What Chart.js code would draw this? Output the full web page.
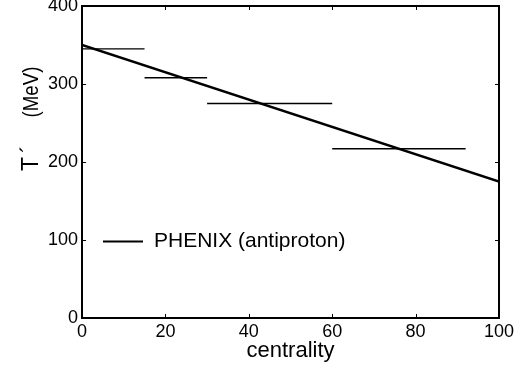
<!DOCTYPE html>
<html>
<head>
<meta charset="utf-8">
<script src="https://cdn.jsdelivr.net/npm/chart.js@4"></script>
<style>
  html, body { margin: 0; padding: 0; background: #fff; }
  #wrap { width: 518px; height: 370px; }
</style>
</head>
<body>
<div id="wrap"><canvas id="myChart" width="518" height="370"></canvas></div>
<script>
// fitted line
const fitX = [0, 100];
const fitT = [350, 175];
// centrality bins (horizontal bars)
const binLo = [0, 15, 30, 60];
const binHi = [15, 30, 60, 92];
const binT = [345, 308, 275, 217];
// ticks
const xTicks = [0, 20, 40, 60, 80, 100];
const yTicks = [0, 100, 200, 300, 400];

const FONT = 'Liberation Sans, Arial, Helvetica, sans-serif';

var datasets = [{
    label: 'PHENIX (antiproton)',
    data: fitX.map(function(x, i) { return {x: x, y: fitT[i]}; }),
    borderColor: '#000',
    borderWidth: 2.5,
    pointRadius: 0,
    fill: false
}];
binT.forEach(function(t, i) {
    datasets.push({
        label: 'bin' + i,
        data: [{x: binLo[i], y: t}, {x: binHi[i], y: t}],
        borderColor: '#000',
        borderWidth: 1.3,
        pointRadius: 0,
        fill: false
    });
});

// frame, inward ticks, y title and legend inside the plot
const framePlugin = {
    id: 'frame',
    afterDraw: function(chart) {
        var ctx = chart.ctx, a = chart.chartArea;
        var xs = chart.scales.x, ys = chart.scales.y;
        ctx.save();
        ctx.strokeStyle = '#000';
        ctx.lineWidth = 1;
        xTicks.forEach(function(v) {
            var px = Math.round(xs.getPixelForValue(v)) + 0.5;
            ctx.beginPath();
            ctx.moveTo(px, a.bottom); ctx.lineTo(px, a.bottom - 4);
            ctx.moveTo(px, a.top); ctx.lineTo(px, a.top + 4);
            ctx.stroke();
        });
        yTicks.forEach(function(v) {
            var py = Math.round(ys.getPixelForValue(v)) + 0.5;
            ctx.beginPath();
            ctx.moveTo(a.left, py); ctx.lineTo(a.left + 4, py);
            ctx.moveTo(a.right, py); ctx.lineTo(a.right - 4, py);
            ctx.stroke();
        });
        ctx.lineWidth = 2;
        ctx.strokeRect(a.left, a.top, a.right - a.left, a.bottom - a.top);

        // legend
        var ly = ys.getPixelForValue(98);
        ctx.lineWidth = 2;
        ctx.beginPath();
        ctx.moveTo(a.left + 21, ly); ctx.lineTo(a.left + 61, ly);
        ctx.stroke();
        ctx.fillStyle = '#000';
        ctx.font = '21px ' + FONT;
        ctx.textBaseline = 'middle';
        ctx.textAlign = 'left';
        ctx.fillText('PHENIX (antiproton)', a.left + 72, ly);

        // y title, rotated; pieces spaced like the original
        ctx.translate(32, 0);
        ctx.rotate(-Math.PI / 2);
        ctx.textAlign = 'center';
        ctx.font = '23px ' + FONT;
        ctx.fillText('T', -164, 0);
        ctx.font = '22px ' + FONT;
        ctx.fillText('\u00B4', -149, -2);
        ctx.save();
        ctx.translate(-92, 0);
        ctx.scale(0.85, 1);
        ctx.fillText('(MeV)', 0, 0);
        ctx.restore();
        ctx.restore();
    }
};

var ctx = document.getElementById('myChart').getContext('2d');
var myChart = new Chart(ctx, {
    type: 'line',
    data: { datasets: datasets },
    options: {
        responsive: false,
        animation: false,
        layout: { padding: { top: 6, right: 19, left: 0, bottom: 0 } },
        plugins: {
            legend: { display: false },
            tooltip: { enabled: false }
        },
        scales: {
            x: {
                type: 'linear',
                min: 0, max: 100,
                grid: { display: false, drawTicks: false },
                border: { display: false },
                afterFit: function(s) { s.height = 52; s.paddingLeft = 0; s.paddingRight = 0; },
                afterBuildTicks: function(s) { s.ticks = xTicks.map(function(v) { return {value: v}; }); },
                ticks: { color: '#000', padding: 3, maxRotation: 0, font: { family: FONT, size: 18 } },
                title: {
                    display: true, text: 'centrality', color: '#000',
                    font: { family: FONT, size: 22 },
                    padding: { top: 0, bottom: 6 }
                }
            },
            y: {
                type: 'linear',
                min: 0, max: 400,
                grid: { display: false, drawTicks: false },
                border: { display: false },
                afterFit: function(s) { s.width = 82; s.paddingTop = 0; s.paddingBottom = 0; },
                afterBuildTicks: function(s) { s.ticks = yTicks.map(function(v) { return {value: v}; }); },
                ticks: { color: '#000', padding: 4, font: { family: FONT, size: 18 } }
            }
        }
    },
    plugins: [framePlugin]
});
</script>
</body>
</html>
